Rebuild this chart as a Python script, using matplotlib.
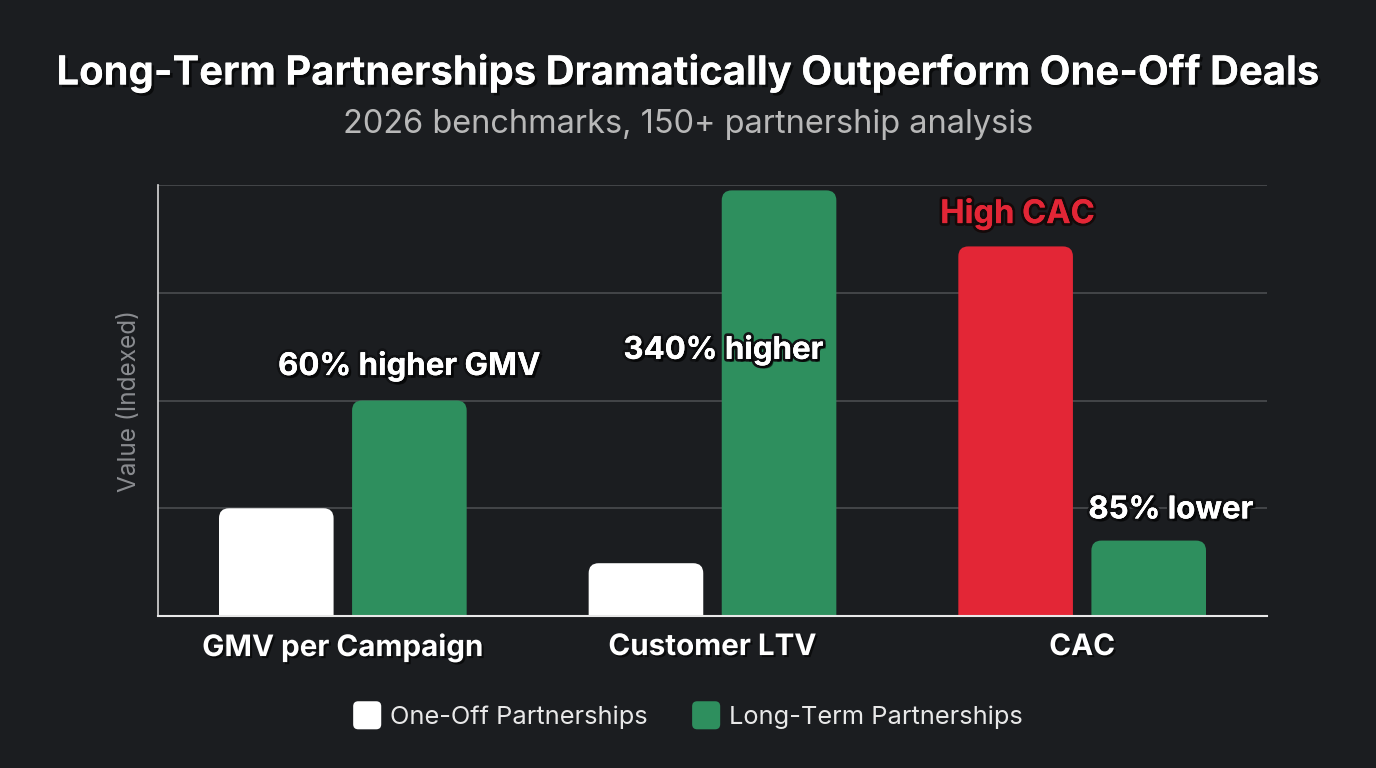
import matplotlib
matplotlib.use("Agg")
import matplotlib.pyplot as plt
import matplotlib.patheffects as pe
from matplotlib.patches import FancyBboxPatch, Patch
from matplotlib.legend_handler import HandlerPatch
import numpy as np

categories = ["GMV per Campaign", "Customer LTV", "CAC"]
one_off = [1.0, 0.49, 3.43]
long_term = [2.0, 3.95, 0.70]
series_names = ["One-Off Partnerships", "Long-Term Partnerships"]
annotations = ["60% higher GMV", "340% higher", "85% lower"]
cac_note = "High CAC"

BG = "#1b1d20"
WHITE = "#ffffff"
GREEN = "#2e8f5e"
RED = "#e32636"

plt.rcParams['font.family'] = ['Inter', 'DejaVu Sans']

fig = plt.figure(figsize=(13.76, 7.68), dpi=100, facecolor=BG)
ax = fig.add_axes([158/1376, 1-616/768, (1267-158)/1376, (616-185)/768])
ax.set_facecolor(BG)
ax.set_xlim(-0.5, 2.5)
ax.set_ylim(0, 4)

x = np.arange(len(categories))
w = 0.31
off = 0.18
aspect = (1109/3) / (431/4)
r = 10 / (1109/3)

one_colors = [WHITE, WHITE, RED]

def rbar(xc, h, color):
    p = FancyBboxPatch((xc - w/2, -0.3), w, h + 0.3,
                       boxstyle=f"round,pad=0,rounding_size={r}",
                       mutation_aspect=aspect, facecolor=color,
                       edgecolor="none", zorder=3, clip_on=True)
    ax.add_patch(p)

for i in range(len(categories)):
    rbar(x[i] - off, one_off[i], one_colors[i])
    rbar(x[i] + off, long_term[i], GREEN)

ax.set_yticks([1, 2, 3, 4])
ax.yaxis.grid(True, color="#4a4c50", linewidth=1.2, zorder=0)
ax.tick_params(axis='y', length=0, labelleft=False)
ax.set_xticks(x)
ax.set_xticklabels(categories, fontsize=21.3, fontweight='bold', color=WHITE)
ax.tick_params(axis='x', length=0, pad=13)
for lab in ax.get_xticklabels():
    lab.set_path_effects([pe.withSimplePatchShadow(offset=(1.5, -1.5), shadow_rgbFace='black', alpha=0.6)])
for s in ["top", "right"]:
    ax.spines[s].set_visible(False)
ax.spines["left"].set_color("#d8d8d8")
ax.spines["bottom"].set_color("#e8e8e8")
ax.spines["left"].set_linewidth(1.2)
ax.spines["bottom"].set_linewidth(1.5)
ax.spines["left"].set_zorder(4)
ax.spines["bottom"].set_zorder(4)

ax.set_ylabel("Value (Indexed)", fontsize=17.5, color="#8a8c90", labelpad=12)

shadow = [pe.withStroke(linewidth=4, foreground="#111214"),
          pe.withSimplePatchShadow(offset=(2, -2), shadow_rgbFace='black', alpha=0.6),
          pe.Normal()]

ax.text(x[0] + 0.18, long_term[0] + 0.32, annotations[0], ha='center', va='center',
        fontsize=22.5, fontweight='bold', color=WHITE, zorder=6, path_effects=shadow)
ax.text(x[1] + 0.03, 2.47, annotations[1], ha='center', va='center',
        fontsize=22.5, fontweight='bold', color=WHITE, zorder=6, path_effects=shadow)
ax.text(x[2] + off + 0.06, long_term[2] + 0.28, annotations[2], ha='center', va='center',
        fontsize=22.5, fontweight='bold', color=WHITE, zorder=6, path_effects=shadow)
ax.text(x[2] - off + 0.005, one_off[2] + 0.3, cac_note, ha='center', va='center',
        fontsize=23.5, fontweight='bold', color=RED, zorder=6,
        path_effects=[pe.withStroke(linewidth=4, foreground="#140a0a"), pe.Normal()])

fig.text(0.5, 1-73/768, "Long-Term Partnerships Dramatically Outperform One-Off Deals",
         ha='center', va='center', fontsize=28.8, fontweight='bold', color=WHITE,
         path_effects=[pe.withSimplePatchShadow(offset=(2, -2), shadow_rgbFace='black', alpha=0.6), pe.Normal()])
fig.text(0.5, 1-125/768, "2026 benchmarks, 150+ partnership analysis",
         ha='center', va='center', fontsize=23.4, color="#b8b8b8")


class RoundHandler(HandlerPatch):
    def create_artists(self, legend, orig_handle, xdescent, ydescent, width, height, fontsize, trans):
        s = min(width, height) * 1.15
        p = FancyBboxPatch((-xdescent + (width - s) / 2, -ydescent + (height - s) / 2), s, s,
                           boxstyle=f"round,pad=0,rounding_size={s*0.18}",
                           facecolor=orig_handle.get_facecolor(), edgecolor='none', transform=trans)
        return [p]


handles = [Patch(facecolor=WHITE, edgecolor='none'), Patch(facecolor=GREEN, edgecolor='none')]
leg = fig.legend(handles, series_names, loc='center', bbox_to_anchor=(0.5, 1-716/768),
                 ncol=2, frameon=False, fontsize=18.3, labelcolor="#e8e8e8",
                 handlelength=1.1, handleheight=1.1, columnspacing=1.75, handletextpad=0.35,
                 handler_map={Patch: RoundHandler()})

fig.savefig("out.png", dpi=100, facecolor=BG)
